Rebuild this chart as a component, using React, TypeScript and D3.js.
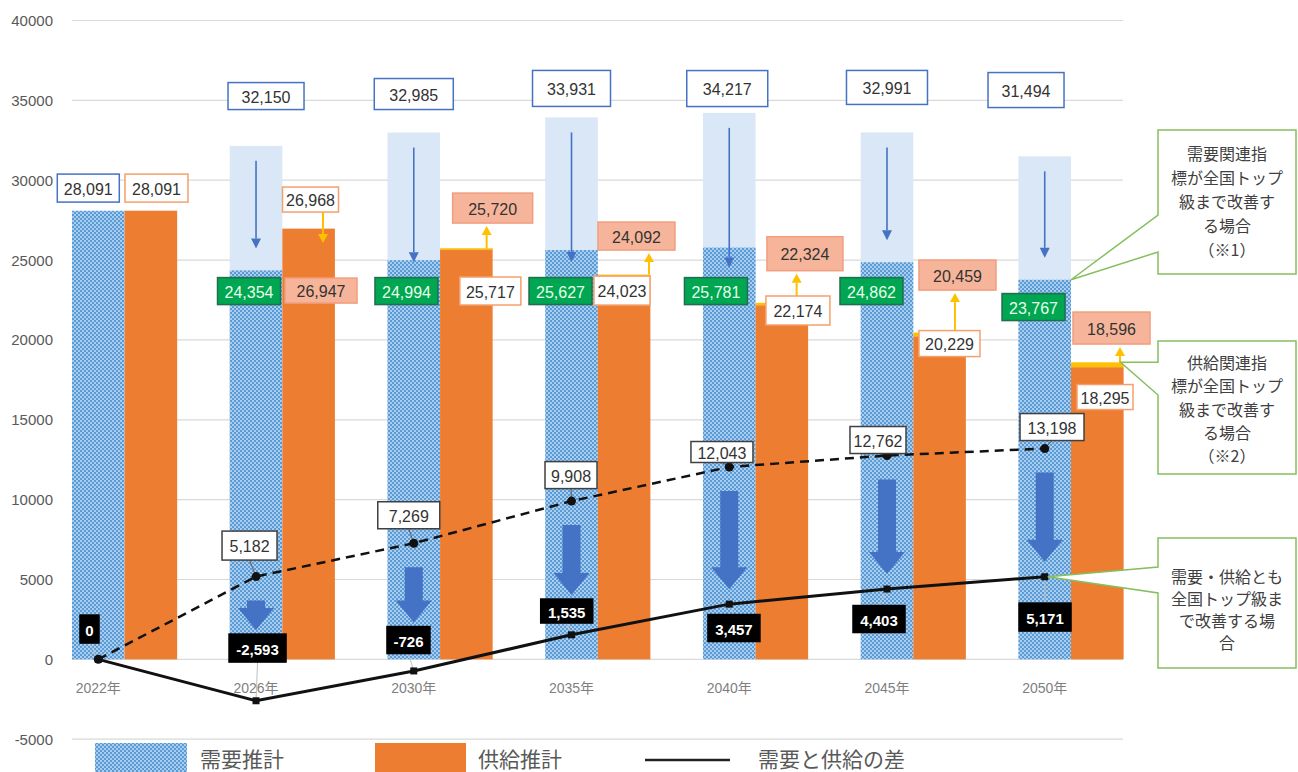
import React from 'react';
import * as d3 from 'd3';

// ---------- data ----------
const years = ['2022年', '2026年', '2030年', '2035年', '2040年', '2045年', '2050年'];
const demandBase = [28091, 32150, 32985, 33931, 34217, 32991, 31494];
const demandImproved = [28091, 24354, 24994, 25627, 25781, 24862, 23767];
const supplyBase = [28091, 26968, 25717, 24023, 22174, 20229, 18295];
const supplyImproved = [28091, 26947, 25720, 24092, 22324, 20459, 18596];
const gapBase = [0, 5182, 7269, 9908, 12043, 12762, 13198];
const gapImproved = [0, -2593, -726, 1535, 3457, 4403, 5171];
const yTicks = [-5000, 0, 5000, 10000, 15000, 20000, 25000, 30000, 35000, 40000];
const legendLabels = ['需要推計', '供給推計', '需要と供給の差'];
const callout1 = ['需要関連指', '標が全国トップ', '級まで改善す', 'る場合', '（※1）'];
const callout2 = ['供給関連指', '標が全国トップ', '級まで改善す', 'る場合', '（※2）'];
const callout3 = ['需要・供給とも', '全国トップ級ま', 'で改善する場', '合'];

// ---------- label layout (offsets from data anchors) ----------
const topBoxL = [
  { dx: -10, dy: -22.6, w: 62, h: 28 },
  { dx: 10, dy: -49.8, w: 76, h: 27 },
  { dx: 0, dy: -38.5, w: 79, h: 31 },
  { dx: 0, dy: -29, w: 78, h: 36 },
  { dx: -2, dy: -24.3, w: 81, h: 36 },
  { dx: 0, dy: -45, w: 81, h: 34 },
  { dx: -18.7, dy: -66.3, w: 76, h: 35 },
];
const greenL = [null,
  { dx: -7, dy: 20.7 }, { dx: -7.3, dy: 30.9 }, { dx: -11, dy: 41 },
  { dx: -13.3, dy: 43.5 }, { dx: -15.5, dy: 28.8 }, { dx: -11.2, dy: 27.3 }];
const salmonL = [null,
  { dx: 12.4, dy: 61.6, w: 72, h: 25 }, { dx: 26.3, dy: -40.5, w: 80, h: 30 },
  { dx: 12.4, dy: -38.5, w: 77, h: 28 }, { dx: 23.1, dy: -49.1, w: 76, h: 34 },
  { dx: 17.9, dy: -57.5, w: 77, h: 30 }, { dx: 14.2, dy: -34.3, w: 77, h: 32 }];
const whiteOL = [
  { dx: 5.6, dy: -22.6, w: 63, h: 28 },
  { dx: 1.9, dy: -29.1, w: 56, h: 25 }, { dx: 24, dy: 42.4, w: 61, h: 28 },
  { dx: -2.1, dy: 14.9, w: 56, h: 29 }, { dx: 16.1, dy: 5.3, w: 64, h: 29 },
  { dx: 9.9, dy: 7.3, w: 61, h: 26 }, { dx: 7.7, dy: 29.9, w: 56, h: 25 }];
const dashL = [null,
  { dx: -6.5, dy: -31, w: 55, h: 29 }, { dx: -5, dy: -28, w: 62, h: 27 },
  { dx: -0.5, dy: -26, w: 52, h: 27 }, { dx: -7.3, dy: -15, w: 62, h: 21 },
  { dx: -9, dy: -15.5, w: 56, h: 27 }, { dx: 7.3, dy: -21.5, w: 64, h: 27 }];
const blackL = [
  { dx: -8.8, dy: -30.3, w: 19, h: 28 },
  { dx: 1.5, dy: -52.7, w: 57, h: 28 }, { dx: -5.3, dy: -30.9, w: 43, h: 27 },
  { dx: -4.8, dy: -23.8, w: 52, h: 24 }, { dx: 4.7, dy: 23.9, w: 52, h: 27 },
  { dx: -8, dy: 30, w: 52, h: 27 }, { dx: 0.3, dy: 40.3, w: 52, h: 28 }];
const thinTipDy = [0, -22, 2, 12, 20, -22, -22];
const yellowDx = [0, 14.4, 20.3, 24.9, 14.8, 15.4, 22.7];

const W = 1298;
const H = 772;
const NUM_FONT = '"Liberation Sans", Arial, "Noto Sans CJK JP", sans-serif';
const JP_FONT = '"Noto Sans CJK JP", "Noto Sans", sans-serif';
const fmt0 = d3.format(',');
const fmt = (v: number) => fmt0(v).replace('\u2212', '-');

const x = d3.scaleBand<string>().domain(years).range([72, 1123.6]).paddingInner(1 / 3).paddingOuter(0);
const bw = x.bandwidth() / 2;
const y = d3.scaleLinear().domain([-5000, 40000]).range([739.2, 20.5]);
const blueX = (i: number) => x(years[i]) as number;
const blueC = (i: number) => blueX(i) + bw / 2;
const orangeX = (i: number) => blueX(i) + bw;
const orangeC = (i: number) => orangeX(i) + bw / 2;

function Box({ cx, cy, w, h, text, fill, stroke, color, size = 16, weight = 400, sw = 1.5 }: any) {
  return (
    <g>
      <rect x={cx - w / 2} y={cy - h / 2} width={w} height={h} fill={fill} stroke={stroke} strokeWidth={sw} />
      <text x={cx} y={cy + 1} textAnchor="middle" dominantBaseline="central" fontFamily={NUM_FONT}
        fontSize={size} fontWeight={weight} fill={color}>{text}</text>
    </g>
  );
}

function thinArrow(xp: number, y1: number, y2: number, color: string, key: string, sw = 1.6, hw = 5, hl = 10) {
  const dir = y2 > y1 ? 1 : -1;
  return (
    <g key={key}>
      <line x1={xp} y1={y1} x2={xp} y2={y2 - dir * hl} stroke={color} strokeWidth={sw} />
      <path d={`M${xp - hw},${y2 - dir * hl} L${xp + hw},${y2 - dir * hl} L${xp},${y2} Z`} fill={color} />
    </g>
  );
}

function fatArrow(cx: number, top: number, tip: number, bodyW = 18, headW = 36, headL = 22) {
  return `M${cx - bodyW / 2},${top} H${cx + bodyW / 2} V${tip - headL} H${cx + headW / 2} L${cx},${tip} L${cx - headW / 2},${tip - headL} H${cx - bodyW / 2} Z`;
}

function Callout({ left, right, top, bottom, j1, j2, tipX, tipY, lines, firstY, step }: any) {
  const d = `M${left},${top} H${right} V${bottom} H${left} V${j2} L${tipX},${tipY} L${left},${j1} Z`;
  const cx = (left + right) / 2;
  return (
    <g>
      <path d={d} fill="#fff" stroke="#86BF5E" strokeWidth={1.5} />
      {lines.map((t: string, k: number) => (
        <text key={k} x={cx} y={firstY + k * step} textAnchor="middle" dominantBaseline="central"
          fontFamily={JP_FONT} fontSize={16} fill="#404040">{t}</text>
      ))}
    </g>
  );
}

export default function App() {
  const lineGen = d3.line<number>().x((_, i) => blueC(i)).y((d) => y(d));
  const n = years.length;
  const idx = d3.range(n);

  return (
    <svg width={W} height={H} style={{ position: 'absolute', left: 0, top: 0, background: '#fff' }}>
      <defs>
        <pattern id="hatch" width={4} height={4} patternUnits="userSpaceOnUse">
          <rect width={4} height={4} fill="#5B9BD5" />
          <rect x={0} y={0} width={2} height={2} fill="#A9CDEE" />
          <rect x={2} y={2} width={2} height={2} fill="#A9CDEE" />
        </pattern>
      </defs>
      <rect width={W} height={H} fill="#fff" />

      {/* grid + y axis */}
      {yTicks.map((t) => (
        <g key={t}>
          <line x1={72} x2={1123} y1={y(t)} y2={y(t)} stroke="#D9D9D9" strokeWidth={1.2} />
          <text x={53} y={y(t)} textAnchor="end" dominantBaseline="central" fontFamily={NUM_FONT}
            fontSize={15} fill="#595959">{t}</text>
        </g>
      ))}

      {/* bars */}
      {idx.map((i) => (
        <g key={'b' + i}>
          {demandBase[i] > demandImproved[i] && (
            <rect x={blueX(i)} y={y(demandBase[i])} width={bw} height={y(0) - y(demandBase[i])} fill="#D9E7F6" />
          )}
          <rect x={blueX(i)} y={y(demandImproved[i])} width={bw} height={y(0) - y(demandImproved[i])} fill="url(#hatch)" />
          <rect x={orangeX(i)} y={y(supplyBase[i])} width={bw} height={y(0) - y(supplyBase[i])} fill="#ED7D31" />
          {supplyImproved[i] > supplyBase[i] && (
            <rect x={orangeX(i)} y={y(supplyImproved[i])} width={bw}
              height={Math.max(1.5, y(supplyBase[i]) - y(supplyImproved[i]))} fill="#FFC000" />
          )}
        </g>
      ))}

      {/* x labels */}
      {idx.map((i) => (
        <text key={'xl' + i} x={blueC(i)} y={688} textAnchor="middle" dominantBaseline="central"
          fontFamily={NUM_FONT} fontSize={14} fill="#7F7F7F">{years[i]}</text>
      ))}

      {/* thin blue arrows */}
      {idx.filter((i) => i > 0).map((i) =>
        thinArrow(blueC(i), y(demandBase[i]) + 15, y(demandImproved[i]) + thinTipDy[i], '#4472C4', 'ta' + i))}

      {/* yellow arrows */}
      {idx.filter((i) => i > 0).map((i) => {
        const xp = orangeC(i) + yellowDx[i];
        if (supplyImproved[i] < supplyBase[i]) {
          const wl = whiteOL[i];
          const boxBottom = y(supplyBase[i]) + wl.dy + wl.h / 2;
          return thinArrow(xp, boxBottom, y(supplyImproved[i]) + 14, '#FFC000', 'ya' + i, 2, 5, 9);
        }
        const sl = salmonL[i]!;
        const boxBottom = y(supplyImproved[i]) + sl.dy + sl.h / 2;
        return thinArrow(xp, y(supplyImproved[i]), boxBottom + 3, '#FFC000', 'ya' + i, 2, 5, 9);
      })}

      {/* fat blue arrows */}
      {idx.filter((i) => i > 0).map((i) => {
        const bl = blackL[i];
        const bTop = y(gapImproved[i]) + bl.dy - bl.h / 2;
        const tip = Math.min(bTop - 4, y(gapImproved[i]) - 15);
        const top = y(gapBase[i]) + 24;
        return <path key={'fa' + i} d={fatArrow(blueC(i), top, tip)} fill="#4472C4" />;
      })}

      {/* leader lines */}
      {idx.filter((i) => i > 0).map((i) => {
        const l = dashL[i]!;
        const px = blueC(i), py = y(gapBase[i]);
        return <line key={'ld' + i} x1={px + l.dx} y1={py + l.dy + l.h / 2} x2={px} y2={py} stroke="#595959" strokeWidth={1} />;
      })}
      {idx.map((i) => {
        const l = blackL[i];
        const px = blueC(i), py = y(gapImproved[i]);
        const by = l.dy < 0 ? py + l.dy + l.h / 2 : py + l.dy - l.h / 2;
        return <line key={'lb' + i} x1={px + l.dx} y1={by} x2={px} y2={py} stroke="#BFBFBF" strokeWidth={1} />;
      })}

      {/* lines */}
      <path d={lineGen(gapBase) as string} fill="none" stroke="#111" strokeWidth={2.5} strokeDasharray="9 6" />
      <path d={lineGen(gapImproved) as string} fill="none" stroke="#111" strokeWidth={3} />
      {idx.map((i) => (
        <circle key={'pd' + i} cx={blueC(i)} cy={y(gapBase[i])} r={4.5} fill="#111" />
      ))}
      {idx.map((i) => (
        <rect key={'ps' + i} x={blueC(i) - 3.5} y={y(gapImproved[i]) - 3.5} width={7} height={7} fill="#111" />
      ))}

      {/* top demand labels */}
      {idx.map((i) => {
        const l = topBoxL[i];
        return <Box key={'tb' + i} cx={blueC(i) + l.dx} cy={y(demandBase[i]) + l.dy} w={l.w} h={l.h}
          text={fmt(demandBase[i])} fill="#fff" stroke="#4472C4" color="#333" />;
      })}
      {/* green improved demand labels */}
      {idx.filter((i) => i > 0).map((i) => {
        const l = greenL[i]!;
        return <Box key={'gb' + i} cx={blueC(i) + l.dx} cy={y(demandImproved[i]) + l.dy} w={63} h={27}
          text={fmt(demandImproved[i])} fill="#00A651" stroke="#1F6E4F" color="#E6FFE9" />;
      })}
      {/* supply base labels */}
      {idx.map((i) => {
        const l = whiteOL[i];
        return <Box key={'wb' + i} cx={orangeC(i) + l.dx} cy={y(supplyBase[i]) + l.dy} w={l.w} h={l.h}
          text={fmt(supplyBase[i])} fill="#fff" stroke="#F4A06C" color="#333" />;
      })}
      {/* salmon improved supply labels */}
      {idx.filter((i) => i > 0).map((i) => {
        const l = salmonL[i]!;
        return <Box key={'sb' + i} cx={orangeC(i) + l.dx} cy={y(supplyImproved[i]) + l.dy} w={l.w} h={l.h}
          text={fmt(supplyImproved[i])} fill="#F6B59A" stroke="#F19E7E" color="#333" />;
      })}
      {/* dashed line labels */}
      {idx.filter((i) => i > 0).map((i) => {
        const l = dashL[i]!;
        return <Box key={'db' + i} cx={blueC(i) + l.dx} cy={y(gapBase[i]) + l.dy} w={l.w} h={l.h}
          text={fmt(gapBase[i])} fill="#fff" stroke="#404040" color="#333" />;
      })}
      {/* solid line labels */}
      {idx.map((i) => {
        const l = blackL[i];
        return <Box key={'kb' + i} cx={blueC(i) + l.dx} cy={y(gapImproved[i]) + l.dy} w={l.w} h={l.h}
          text={fmt(gapImproved[i])} fill="#000" stroke="#000" color="#fff" size={15} weight={700} />;
      })}

      {/* callouts */}
      <Callout left={1158} right={1296} top={130} bottom={274} j1={215} j2={252}
        tipX={orangeX(n - 1)} tipY={y(demandImproved[n - 1])} lines={callout1} firstY={153} step={24} />
      <Callout left={1158} right={1296} top={341} bottom={474} j1={y(supplyImproved[n - 1])} j2={395}
        tipX={orangeX(n - 1) + bw - 3} tipY={y(supplyImproved[n - 1])} lines={callout2} firstY={362} step={23.3} />
      <Callout left={1158} right={1296} top={538} bottom={668} j1={567} j2={593}
        tipX={blueC(n - 1) + 3} tipY={y(gapImproved[n - 1])} lines={callout3} firstY={576} step={22} />

      {/* legend */}
      <rect x={95} y={743} width={92} height={40} fill="url(#hatch)" />
      <text x={200} y={758} dominantBaseline="central" fontFamily={JP_FONT} fontSize={21} fill="#595959">{legendLabels[0]}</text>
      <rect x={375} y={743} width={91} height={40} fill="#ED7D31" />
      <text x={478} y={758} dominantBaseline="central" fontFamily={JP_FONT} fontSize={21} fill="#595959">{legendLabels[1]}</text>
      <line x1={645} x2={730} y1={760} y2={760} stroke="#222" strokeWidth={2.5} />
      <text x={758} y={758} dominantBaseline="central" fontFamily={JP_FONT} fontSize={21} fill="#595959">{legendLabels[2]}</text>
    </svg>
  );
}
